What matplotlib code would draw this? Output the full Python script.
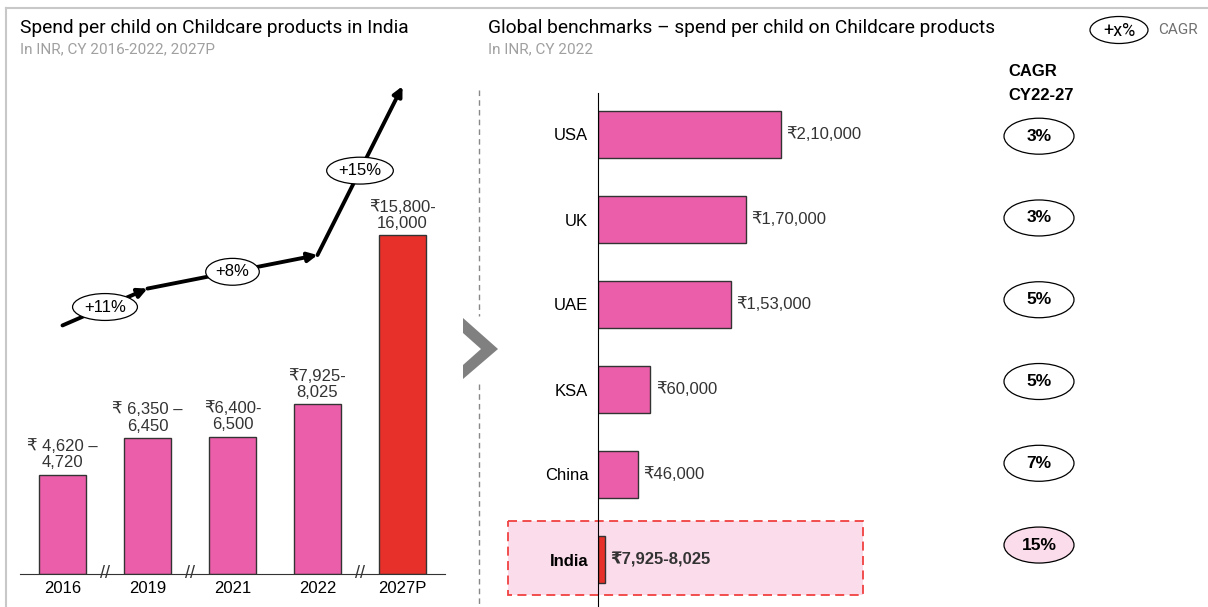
import matplotlib.pyplot as plt
from matplotlib.patches import Ellipse, Rectangle, Polygon
from matplotlib.lines import Line2D
from matplotlib.transforms import blended_transform_factory

W, H = 1208, 607

# left panel: spend per child in India
years = ["2016", "2019", "2021", "2022", "2027P"]
spend_mid = [4670, 6400, 6450, 7975, 15900]
spend_labels = ["₹ 4,620 –\n4,720", "₹ 6,350 –\n6,450", "₹6,400-\n6,500",
                "₹7,925-\n8,025", "₹15,800-\n16,000"]
growth_idx = [0, 1, 3, 4]
growth_labels = ["+11%", "+8%", "+15%"]

# right panel: global benchmarks
countries = ["USA", "UK", "UAE", "KSA", "China", "India"]
bench_values = [210000, 170000, 153000, 60000, 46000, 7975]
bench_labels = ["₹2,10,000", "₹1,70,000", "₹1,53,000", "₹60,000", "₹46,000", "₹7,925-8,025"]
cagr_labels = ["3%", "3%", "5%", "5%", "7%", "15%"]

PINK = "#EB5EAA"
RED = "#E8302A"
LIGHT_PINK = "#FBDCEA"
SANS = ["Liberation Sans", "DejaVu Sans"]
NARROW = ["Liberation Sans Narrow", "Liberation Sans", "DejaVu Sans"]
TITLE = ["Roboto", "DejaVu Sans"]

plt.rcParams["font.family"] = SANS


def fx(px):
    return px / W


def fy(py):
    return 1 - py / H


fig = plt.figure(figsize=(W / 100, H / 100), dpi=100)

# ---- left chart
ax1 = fig.add_axes([fx(20), fy(574), 425 / W, (574 - 60) / H])
ax1.set_facecolor("none")
x = list(range(len(years)))
colors = [PINK] * 4 + [RED]
ax1.bar(x, spend_mid, width=0.55, color=colors, edgecolor="#333333", linewidth=1, zorder=2)
ax1.set_xlim(-0.5, 4.5)
ax1.set_ylim(0, 514 / 0.0213)
for s in ["top", "left", "right"]:
    ax1.spines[s].set_visible(False)
ax1.spines["bottom"].set_color("#333333")
ax1.set_yticks([])
ax1.set_xticks(x, years, fontsize=12)
ax1.tick_params(axis="x", length=0, pad=5)

for i, (v, lab) in enumerate(zip(spend_mid, spend_labels)):
    ax1.annotate(lab, (i, v), xytext=(0, 3), textcoords="offset points",
                 ha="center", va="bottom", fontsize=12, color="#333333", linespacing=1.12)

for xb in [0.5, 1.5, 3.5]:
    ax1.text(xb, 0, "//", ha="center", va="center", fontsize=13, color="#333333",
             clip_on=False)

pts = [(i, spend_mid[i] + 7000) for i in growth_idx]
for k in range(len(pts) - 1):
    ax1.annotate("", xy=pts[k + 1], xytext=pts[k],
                 arrowprops=dict(arrowstyle="-|>", lw=2.8, color="black",
                                 mutation_scale=14, shrinkA=0, shrinkB=0))
    mx = (pts[k][0] + pts[k + 1][0]) / 2
    my = (pts[k][1] + pts[k + 1][1]) / 2
    ax1.text(mx, my, growth_labels[k], ha="center", va="center", fontsize=12,
             bbox=dict(boxstyle="ellipse,pad=0.12", fc="white", ec="black", lw=0.9), zorder=5)

# ---- right chart
ax2 = fig.add_axes([fx(598), 0, 610 / W, (607 - 93) / H])
ax2.set_facecolor("none")
y = list(range(len(countries)))
bcolors = [PINK] * 5 + [RED]
ax2.barh(y, bench_values, height=0.553, color=bcolors, edgecolor="#333333", linewidth=1, zorder=2)
ax2.set_xlim(0, 610 / 0.00087)
ax2.set_ylim((607 - 134.5) / 85, -41.5 / 85)
for s in ["top", "bottom", "right"]:
    ax2.spines[s].set_visible(False)
ax2.spines["left"].set_color("black")
ax2.set_xticks([])
ax2.set_yticks(y, countries, fontsize=12)
ax2.tick_params(axis="y", length=0, pad=7)
ax2.get_yticklabels()[-1].set_fontweight("bold")

for i, (v, lab) in enumerate(zip(bench_values, bench_labels)):
    ax2.annotate(lab, (v, i), xytext=(4, 0), textcoords="offset points", ha="left",
                 va="center", fontsize=12, color="#333333",
                 fontweight="bold" if countries[i] == "India" else "normal")

# India highlight box
tr = blended_transform_factory(fig.transFigure, ax2.transData)
idx = countries.index("India")
ax2.add_patch(Rectangle((fx(508), idx - 0.453), 355 / W, 0.871, transform=tr,
                        fc=LIGHT_PINK, ec="#F04040", lw=1.3, ls=(0, (5, 3)),
                        zorder=0.5, clip_on=False))

# CAGR column
fig.text(fx(1033), fy(72), "CAGR", ha="center", va="center", fontsize=12,
         fontweight="bold", family=NARROW)
fig.text(fx(1041), fy(96), "CY22-27", ha="center", va="center", fontsize=12,
         fontweight="bold", family=NARROW)
for i, lab in enumerate(cagr_labels):
    cy = 134.5 + 85 * (i * 0.962 + 0.02)
    fc = LIGHT_PINK if countries[i] == "India" else "white"
    fig.add_artist(Ellipse((fx(1039), fy(cy)), 70 / W, 36 / H, transform=fig.transFigure,
                           fc=fc, ec="black", lw=0.9))
    fig.text(fx(1039), fy(cy), lab, ha="center", va="center", fontsize=12.5,
             fontweight="bold", family=NARROW)

# ---- titles
fig.text(fx(20), fy(28), "Spend per child on Childcare products in India", fontsize=13.8,
         va="center", family=TITLE)
fig.text(fx(20), fy(49), "In INR, CY 2016-2022, 2027P", fontsize=11, va="center",
         color="#A0A0A0", family=TITLE)
fig.text(fx(488), fy(28), "Global benchmarks – spend per child on Childcare products",
         fontsize=13.8, va="center", family=TITLE)
fig.text(fx(488), fy(49), "In INR, CY 2022", fontsize=11, va="center",
         color="#A0A0A0", family=TITLE)
fig.add_artist(Ellipse((fx(1119), fy(30)), 58 / W, 27 / H, transform=fig.transFigure,
                       fc="white", ec="black", lw=0.9))
fig.text(fx(1119), fy(31), "+x%", ha="center", va="center", fontsize=13, family=TITLE)
fig.text(fx(1158), fy(30), "CAGR", ha="left", va="center", fontsize=11,
         color="#707070", family=TITLE)

# ---- frame, divider and chevron
fig.add_artist(Line2D([fx(6), 1], [fy(8), fy(8)], color="#C8C8C8", lw=1.5))
fig.add_artist(Line2D([fx(6), fx(6)], [fy(8), 0], color="#C8C8C8", lw=1.5))
fig.add_artist(Line2D([fx(479), fx(479)], [fy(90), fy(316)], color="#888888", lw=1,
                      ls=(0, (4, 3))))
fig.add_artist(Line2D([fx(479), fx(479)], [fy(384), 0], color="#888888", lw=1,
                      ls=(0, (4, 3))))
chev = [(463, 318), (498, 349), (463, 379), (463, 365), (481, 349), (463, 333)]
fig.add_artist(Polygon([(fx(a), fy(b)) for a, b in chev], closed=True,
                       transform=fig.transFigure, fc="#808080", ec="none"))

fig.savefig("out.png", dpi=100)
